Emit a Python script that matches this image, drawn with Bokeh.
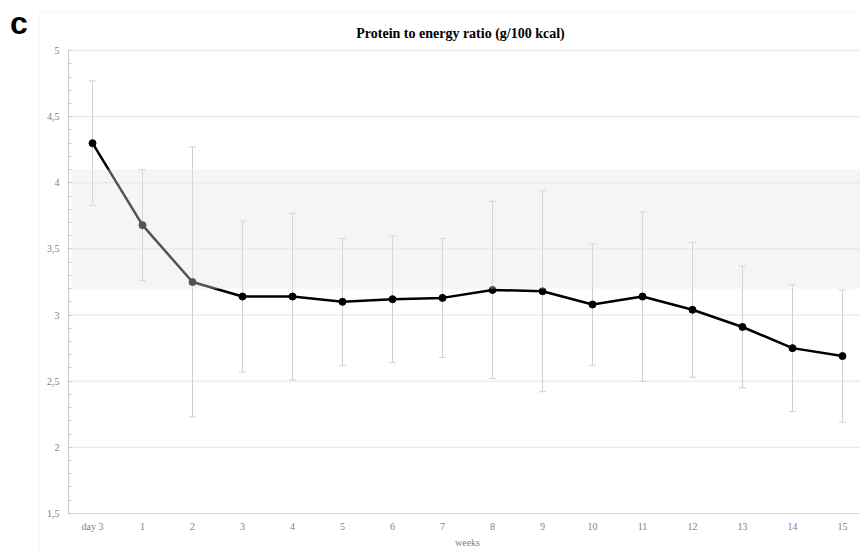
from bokeh.plotting import figure
from bokeh.models import Range1d, FixedTicker, Whisker, TeeHead, ColumnDataSource, BoxAnnotation, Label
from bokeh.embed import file_html
from bokeh.resources import INLINE

categories = ["day 3", "1", "2", "3", "4", "5", "6", "7", "8", "9", "10", "11", "12", "13", "14", "15"]
means = [4.30, 3.68, 3.25, 3.14, 3.14, 3.10, 3.12, 3.13, 3.19, 3.18, 3.08, 3.14, 3.04, 2.91, 2.75, 2.69]
lower = [3.83, 3.26, 2.23, 2.57, 2.51, 2.62, 2.64, 2.68, 2.52, 2.42, 2.62, 2.50, 2.53, 2.45, 2.27, 2.19]
upper = [4.77, 4.10, 4.27, 3.71, 3.77, 3.58, 3.60, 3.58, 3.86, 3.94, 3.54, 3.78, 3.55, 3.37, 3.23, 3.19]
band_low, band_high = 3.2, 4.1
y_ticks = [1.5, 2, 2.5, 3, 3.5, 4, 4.5, 5]
y_labels = ["1,5", "2", "2,5", "3", "3,5", "4", "4,5", "5"]
title_text = "Protein to energy ratio (g/100 kcal)"
x_title = "weeks"
panel_letter = "c"

xs = list(range(len(categories)))
SERIF = "Liberation Serif"
GRAY_TXT = "#7f7f7f"
X0 = -1.84  # frame left (data)

p = figure(width=860, height=551, output_backend="svg", toolbar_location=None,
           x_range=Range1d(X0, 15.36), y_range=Range1d(1.212, 5.379),
           min_border_left=0, min_border_right=0, min_border_top=0, min_border_bottom=0)
p.outline_line_color = None
p.background_fill_color = "white"
p.border_fill_color = "white"

# outer chart frame
p.add_layout(BoxAnnotation(left=-1.06, right=30, bottom=-10, top=5.296,
                           fill_color=None, line_color="#e3e3e3", line_width=1, level="underlay"))

# y axis (placed at the category start)
p.yaxis.fixed_location = -0.48
p.yaxis.bounds = (1.5, 5)
p.yaxis.ticker = FixedTicker(ticks=y_ticks, minor_ticks=[round(1.5 + 0.1 * i, 2) for i in range(36)])
p.yaxis.major_label_overrides = {t: l for t, l in zip(y_ticks, y_labels)}
p.yaxis.major_tick_in = 0
p.yaxis.major_tick_out = 0
p.yaxis.minor_tick_in = 3
p.yaxis.minor_tick_out = 0
p.yaxis.minor_tick_line_color = "#c8c8c8"
p.yaxis.axis_line_color = "#c8c8c8"
p.yaxis.major_label_text_font = SERIF
p.yaxis.major_label_text_font_size = "10px"
p.yaxis.major_label_text_color = GRAY_TXT
p.yaxis.major_label_standoff = 9

# x axis (placed at the value-axis minimum)
p.xaxis.fixed_location = 1.5
p.xaxis.bounds = (-0.48, 15.5)
p.xaxis.ticker = FixedTicker(ticks=xs)
p.xaxis.major_label_overrides = {i: c for i, c in enumerate(categories)}
p.xaxis.major_tick_in = 0
p.xaxis.major_tick_out = 0
p.xaxis.minor_tick_line_color = None
p.xaxis.axis_line_color = "#d9d9d9"
p.xaxis.major_label_text_font = SERIF
p.xaxis.major_label_text_font_size = "10px"
p.xaxis.major_label_text_color = GRAY_TXT
p.xaxis.major_label_standoff = 8

# horizontal grid lines from the axis to the right
p.xgrid.grid_line_color = None
p.ygrid.grid_line_color = None
grid_y = y_ticks[1:]
p.segment(x0=[-0.48] * len(grid_y), y0=grid_y, x1=[30] * len(grid_y), y1=grid_y,
          line_color="#e4e4e4", line_width=1, level="underlay")

# error bars
src = ColumnDataSource(dict(x=xs, m=means, lo=lower, hi=upper))
p.add_layout(Whisker(source=src, base="x", lower="lo", upper="hi", dimension="height",
                     line_color="#d0d0d0", line_width=1,
                     upper_head=TeeHead(size=7, line_color="#d0d0d0", line_width=1),
                     lower_head=TeeHead(size=7, line_color="#d0d0d0", line_width=1)))

# mean line
p.line(xs, means, line_color="black", line_width=2.5)
p.scatter(xs, means, size=7, fill_color="black", line_color="black")

# reference band, semi-transparent, drawn over the data
p.add_layout(BoxAnnotation(left=-0.42, right=30, bottom=band_low, top=band_high,
                           fill_color="#e4e4e4", fill_alpha=0.37, line_color=None, level="overlay"))

# x axis title
p.add_layout(Label(x=7.5, y=1.28, text=x_title, text_font=SERIF, text_font_size="10px",
                   text_color=GRAY_TXT, text_align="center", text_baseline="middle"))

# chart title
p.add_layout(Label(x=7.36, y=5.13, text=title_text, text_font=SERIF, text_font_style="bold",
                   text_font_size="14px", text_color="black", text_align="center",
                   text_baseline="middle"))

# panel letter
p.add_layout(Label(x=-1.65, y=5.21, text=panel_letter, text_font="Liberation Sans",
                   text_font_style="bold", text_font_size="32px", text_color="black",
                   text_baseline="alphabetic"))

open("out.html", "w").write(file_html(p, INLINE))
